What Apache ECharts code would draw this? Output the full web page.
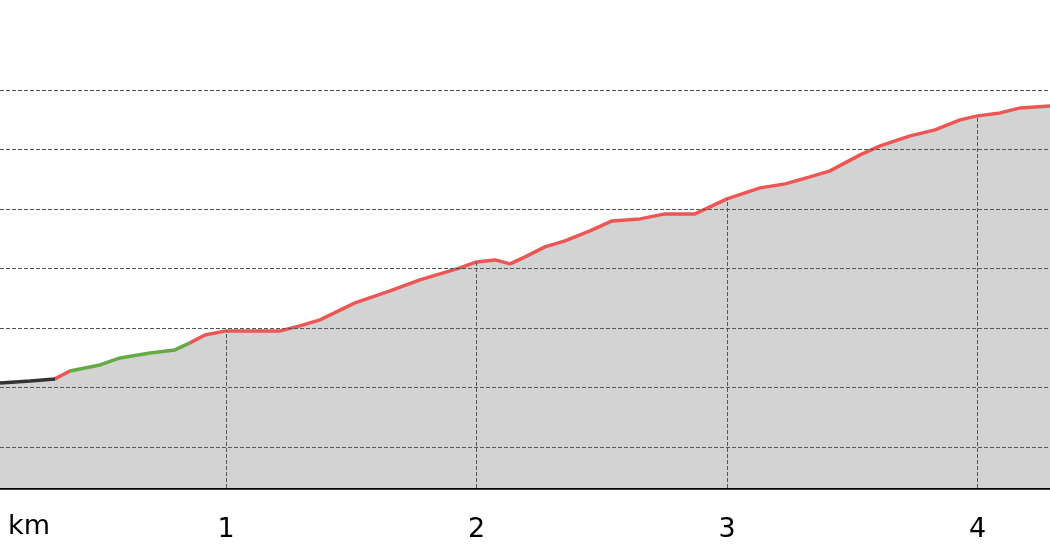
<!DOCTYPE html>
<html><head><meta charset="utf-8">
<script src="https://cdn.jsdelivr.net/npm/echarts@6/dist/echarts.min.js"></script>
<style>html,body{margin:0;padding:0;background:#fff}#chart{width:1050px;height:560px}</style>
</head><body><div id="chart"></div>
<script>
// distance (km) and elevation (arbitrary units, gridlines every 10)
var km = [0.098, 0.218, 0.317, 0.377, 0.497, 0.577, 0.697, 0.796, 0.856, 0.916, 1.0, 1.096, 1.216, 1.295, 1.375, 1.515, 1.655, 1.774, 1.934, 2.0, 2.074, 2.134, 2.194, 2.273, 2.353, 2.453, 2.541, 2.653, 2.752, 2.872, 2.932, 3.0, 3.132, 3.232, 3.331, 3.411, 3.531, 3.611, 3.731, 3.830, 3.930, 4.0, 4.090, 4.170, 4.289];
var elev = [20.76, 21.09, 21.43, 22.77, 23.78, 24.96, 25.80, 26.30, 27.48, 28.82, 29.50, 29.50, 29.50, 30.34, 31.34, 34.20, 36.22, 38.07, 40.08, 41.09, 41.43, 40.76, 41.93, 43.61, 44.62, 46.30, 47.98, 48.32, 49.16, 49.16, 50.34, 51.68, 53.53, 54.20, 55.38, 56.39, 59.08, 60.59, 62.27, 63.28, 64.96, 65.63, 66.13, 66.97, 67.31];
var tickKm = [1, 2, 3, 4];
var gridLevels = [10, 20, 30, 40, 50, 60, 70];
var yMin = 3.1, yMax = 85.1;

var data = km.map(function (k, i) { return [k, elev[i]]; });
function elevAt(k) {
    for (var i = 0; i < km.length; i++) if (km[i] === k) return elev[i];
    return yMin;
}
var marks = gridLevels.map(function (v) { return { yAxis: v }; });
tickKm.forEach(function (k) {
    marks.push([{ coord: [k, yMin] }, { coord: [k, elevAt(k)] }]);
});

var chart = echarts.init(document.getElementById('chart'));
chart.setOption({
    animation: false,
    grid: { left: 0, right: 0, top: 0, bottom: 72 },
    xAxis: {
        type: 'value', min: km[0], max: km[km.length - 1],
        splitLine: { show: false },
        axisLine: { lineStyle: { color: '#000', width: 2.5 } },
        axisTick: { show: false },
        axisLabel: { customValues: tickKm, color: '#000', fontSize: 27, margin: 28, fontFamily: 'DejaVu Sans' }
    },
    yAxis: { type: 'value', min: yMin, max: yMax, show: false, splitLine: { show: false } },
    graphic: [{ type: 'text', left: 8, top: 513, style: { text: 'km', fontSize: 27, fill: '#000', fontFamily: 'DejaVu Sans' } }],
    visualMap: {
        show: false, type: 'piecewise', dimension: 0, seriesIndex: 0,
        pieces: [
            { min: 0, max: 0.317, color: '#333333' },
            { min: 0.317, max: 0.377, color: '#ee5555' },
            { min: 0.377, max: 0.856, color: '#66aa44' },
            { min: 0.856, max: 5, color: '#ee5555' }
        ]
    },
    series: [{
        type: 'line', data: data, symbol: 'none',
        lineStyle: { width: 3.5 },
        areaStyle: { color: '#d3d3d3', opacity: 1 },
        markLine: {
            silent: true, symbol: 'none', label: { show: false },
            lineStyle: { color: '#555', type: 'dashed', width: 1 },
            data: marks
        }
    }]
});
</script></body></html>
